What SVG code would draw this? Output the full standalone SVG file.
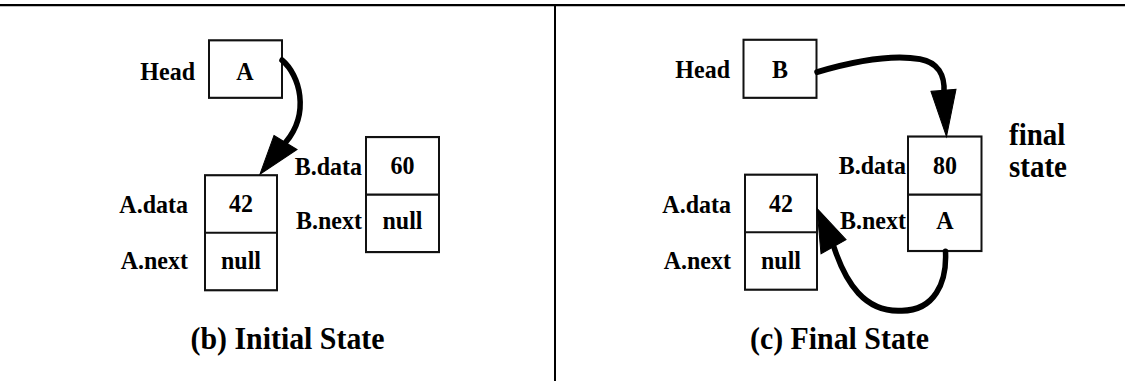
<svg xmlns="http://www.w3.org/2000/svg" width="1125" height="381" viewBox="0 0 1125 381">
  <style>
    .frame { stroke: #000; stroke-width: 2; fill: none; }
    .box { stroke: #111; stroke-width: 2; fill: #fff; }
    .sep { stroke: #111; stroke-width: 2; }
    text { font-family: "Liberation Serif", Tinos, "DejaVu Serif", "Times New Roman", serif; font-weight: 700; fill: #000; }
    .lbl { font-size: 24px; }
    .val { font-size: 24px; text-anchor: middle; }
    .end { text-anchor: end; }
    .note { font-size: 29px; }
    .cap { font-size: 30px; }
    .shaft { stroke: #000; stroke-width: 5.5; fill: none; stroke-linecap: round; }
    .head { fill: #000; stroke: #000; stroke-width: 1; }
  </style>

  <rect width="1125" height="381" fill="#fff"/>

  <!-- drawing laid out on a slightly compressed vertical grid, stretched back here -->
  <g transform="scale(1,1.075)">

    <!-- page rules: top border and panel divider -->
    <g id="frame">
      <line class="frame" x1="0" y1="4.7" x2="1125" y2="4.7"/>
      <line class="frame" x1="555" y1="4.7" x2="555" y2="360"/>
    </g>

    <!-- (b) initial state -->
    <g id="b-head">
      <text class="lbl end" x="195" y="74">Head</text>
      <rect class="box" x="209" y="37.5" width="73" height="53.5"/>
      <text class="val" x="245" y="74">A</text>
    </g>
    <g id="b-node-a">
      <rect class="box" x="205" y="163" width="72" height="107"/>
      <line class="sep" x1="205" y1="216.5" x2="277" y2="216.5"/>
      <text class="lbl end" x="188" y="198">A.data</text>
      <text class="lbl end" x="188" y="250">A.next</text>
      <text class="val" x="241" y="197">42</text>
      <text class="val" x="241" y="250">null</text>
    </g>
    <g id="b-node-b">
      <rect class="box" x="366" y="127.5" width="73" height="107"/>
      <line class="sep" x1="366" y1="181" x2="439" y2="181"/>
      <text class="lbl end" x="362" y="163">B.data</text>
      <text class="lbl end" x="362" y="213">B.next</text>
      <text class="val" x="402.5" y="162">60</text>
      <text class="val" x="402.5" y="213">null</text>
    </g>
    <g id="b-caption">
      <text class="cap" x="190.5" y="325" textLength="194" lengthAdjust="spacingAndGlyphs">(b) Initial State</text>
    </g>

    <!-- (c) final state -->
    <g id="c-head">
      <text class="lbl end" x="730" y="73">Head</text>
      <rect class="box" x="743.5" y="37" width="73" height="54"/>
      <text class="val" x="780" y="73">B</text>
    </g>
    <g id="c-node-a">
      <rect class="box" x="745" y="162.5" width="72" height="107"/>
      <line class="sep" x1="745" y1="216" x2="817" y2="216"/>
      <text class="lbl end" x="731" y="198">A.data</text>
      <text class="lbl end" x="731" y="250">A.next</text>
      <text class="val" x="781" y="197">42</text>
      <text class="val" x="781" y="250">null</text>
    </g>
    <g id="c-node-b">
      <rect class="box" x="908" y="127" width="73.5" height="106.5"/>
      <line class="sep" x1="908" y1="181" x2="981.5" y2="181"/>
      <text class="lbl end" x="906" y="162">B.data</text>
      <text class="lbl end" x="906" y="213">B.next</text>
      <text class="val" x="945" y="162">80</text>
      <text class="val" x="945" y="213">A</text>
    </g>
    <g id="c-note">
      <text class="note" x="1009" y="135">final</text>
      <text class="note" x="1009" y="165">state</text>
    </g>
    <g id="c-caption">
      <text class="cap" x="750" y="325" textLength="179" lengthAdjust="spacingAndGlyphs">(c) Final State</text>
    </g>

    <!-- pointers -->
    <g id="connectors">
      <path class="shaft" d="M282,56 C300,70 310,105 286,132"/>
      <polygon class="head" points="274,126 297,139 260,162"/>

      <path class="shaft" d="M817,67 C850,58 890,50 920,55 C938,58 945,70 944,86"/>
      <polygon class="head" points="931,85 956,83 946.5,127"/>

      <path class="shaft" d="M945.5,234 C947,262 935,290 900,289 C865,290 846,264 834,230"/>
      <polygon class="head" points="821,236 846,223 817,194"/>
    </g>
  </g>
</svg>
